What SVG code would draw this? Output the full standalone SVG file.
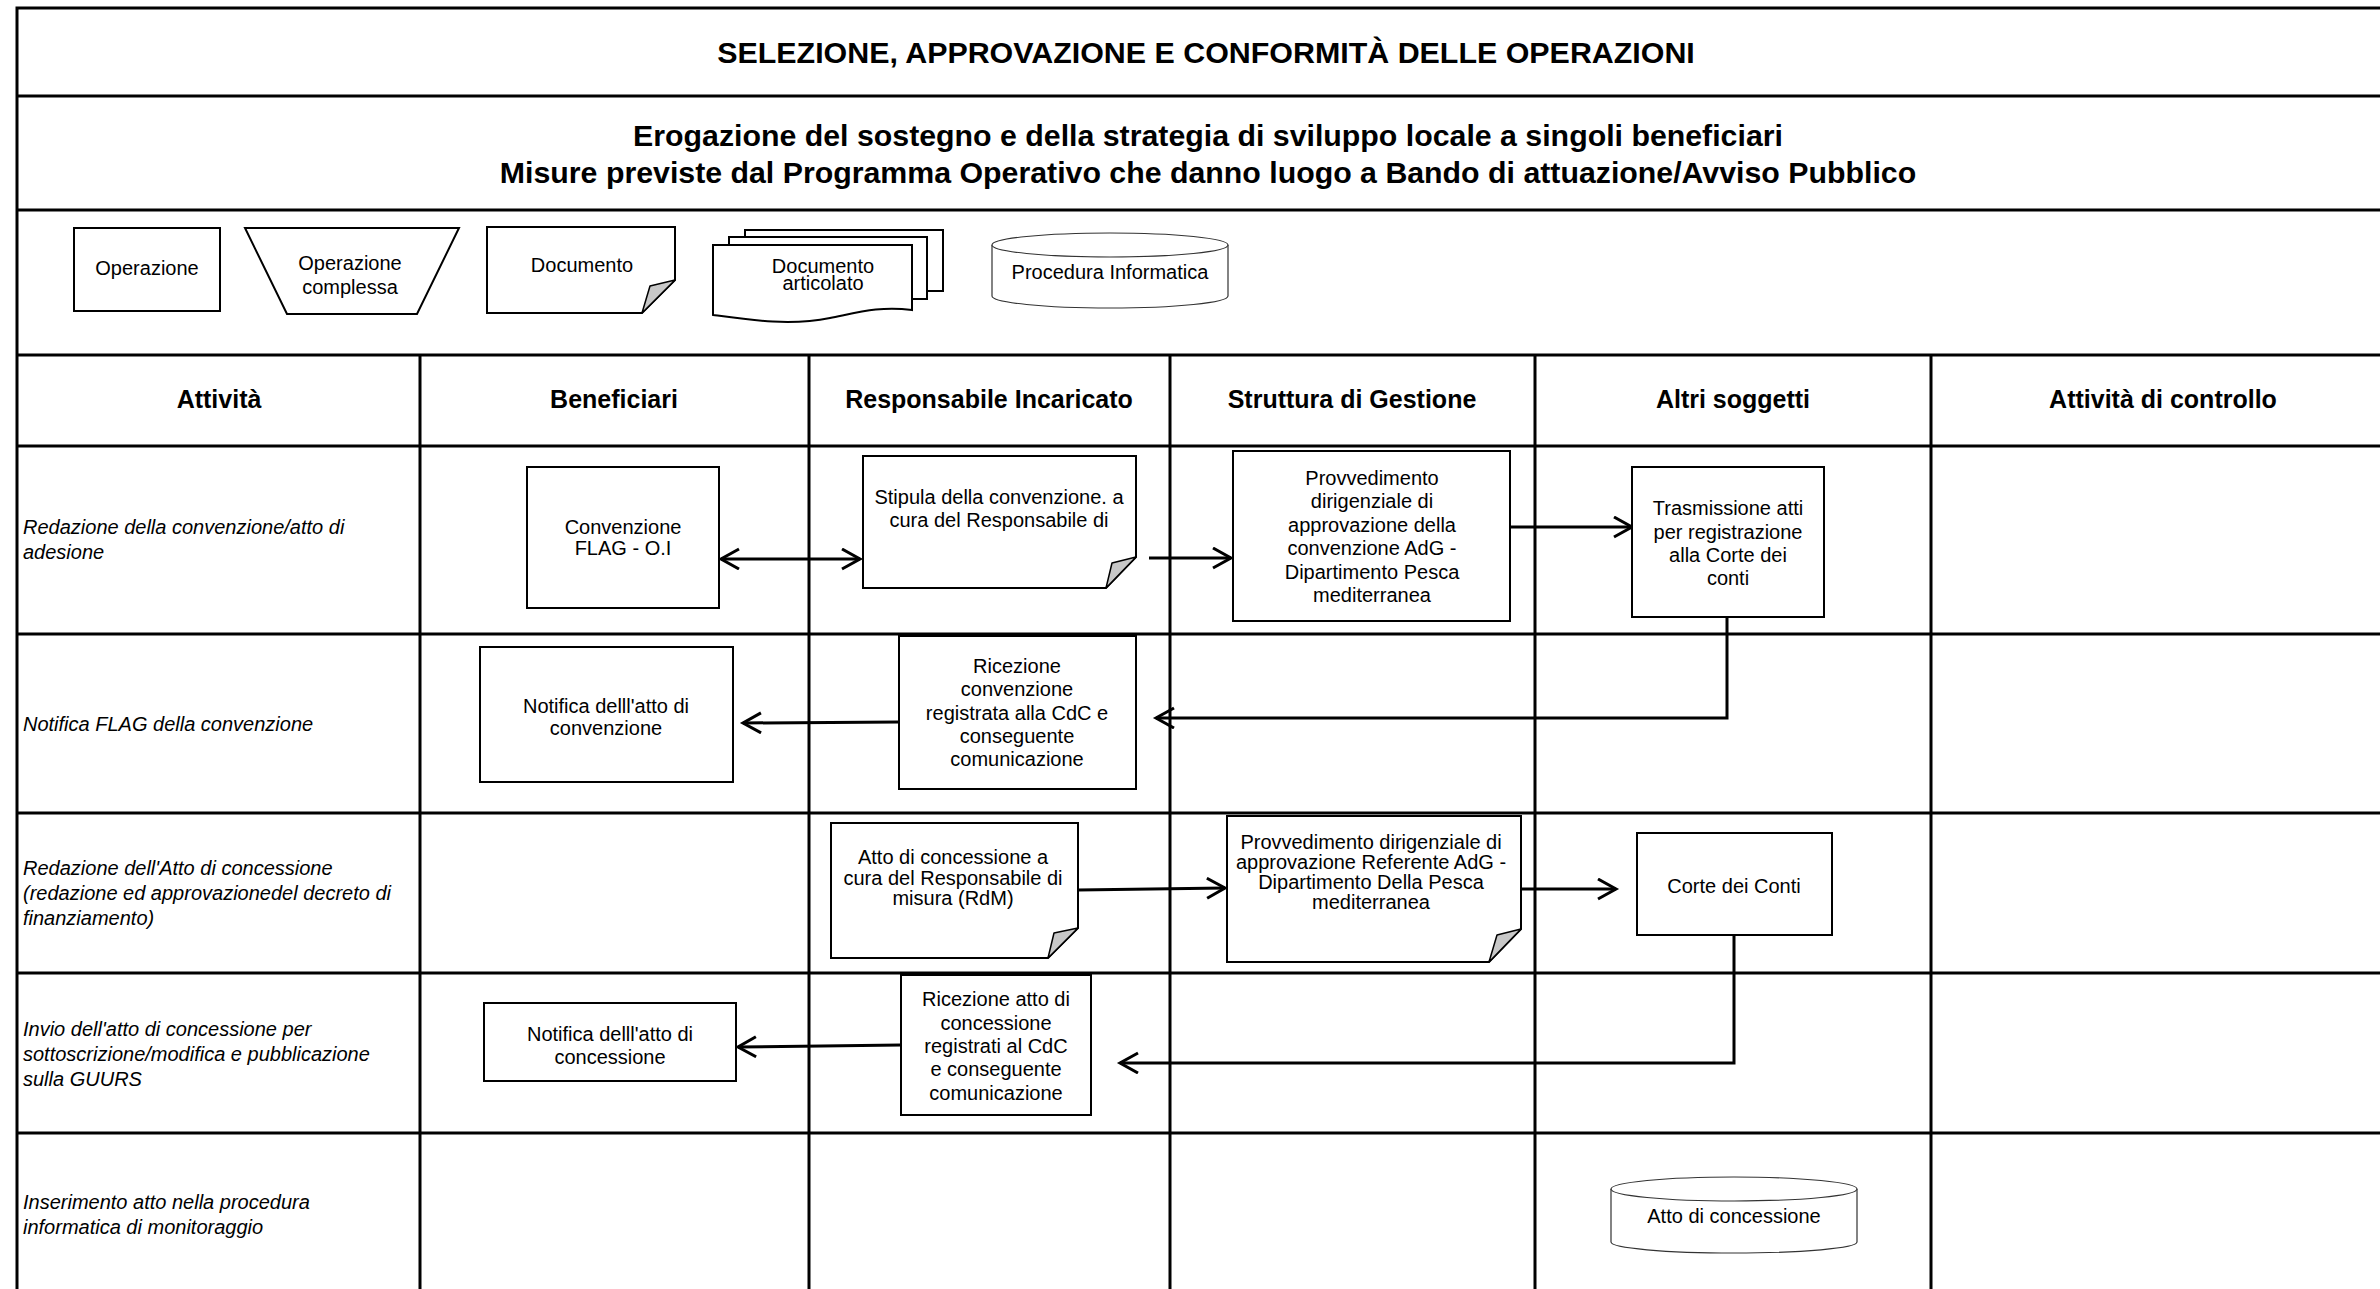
<svg xmlns="http://www.w3.org/2000/svg" width="2380" height="1289" viewBox="0 0 2380 1289">
<defs>
<style>
text{font-family:"Liberation Sans",Arial,sans-serif;fill:#000}
.ttl{font-size:30.4px;font-weight:bold;text-anchor:middle}
.sub{font-size:30.3px;font-weight:bold;text-anchor:middle}
.hdr{font-size:25px;font-weight:bold;text-anchor:middle}
.act{font-size:20px;font-style:italic}
.nt{font-size:20px;text-anchor:middle}
.grid{stroke:#000;stroke-width:3;fill:none}
.box{fill:#fff;stroke:#000;stroke-width:2}
.fold{fill:#c8c8c8;stroke:#000;stroke-width:1.5;stroke-linejoin:round}
.cyl{fill:#fff;stroke:#333;stroke-width:1.2}
.con{stroke:#000;stroke-width:3;fill:none}
</style>
<marker id="arr" markerUnits="userSpaceOnUse" markerWidth="24" markerHeight="26" refX="19" refY="11" orient="auto-start-reverse" viewBox="0 0 24 26">
<path d="M1,1 L19,11 L1,21" fill="none" stroke="#000" stroke-width="3"/>
</marker>
</defs>
<rect width="2380" height="1289" fill="#fff"/>

<g id="grid">
<path class="grid" d="M17,8 H2380 M17,96 H2380 M17,210 H2380 M17,355 H2380 M17,446 H2380 M17,634 H2380 M17,813 H2380 M17,973 H2380 M17,1133 H2380 M17,6.5 V1289 M420,355 V1289 M809,355 V1289 M1170,355 V1289 M1535,355 V1289 M1931,355 V1289"/>
</g>

<g id="titles">
<text class="ttl" x="1206" y="63">SELEZIONE, APPROVAZIONE E CONFORMITÀ DELLE OPERAZIONI</text>
<text class="sub" x="1208" y="146">Erogazione del sostegno e della strategia di sviluppo locale a singoli beneficiari</text>
<text class="sub" x="1208" y="183">Misure previste dal Programma Operativo che danno luogo a Bando di attuazione/Avviso Pubblico</text>
</g>

<g id="legend">
<g id="leg-operazione">
<rect class="box" x="74" y="228" width="146" height="83"/>
<text class="nt" x="147" y="275">Operazione</text>
</g>
<g id="leg-operazione-complessa">
<polygon class="box" points="245,228 459,228 417,314 287,314"/>
<text class="nt" x="350" y="270">Operazione</text>
<text class="nt" x="350" y="294">complessa</text>
</g>
<g id="leg-documento">
<path class="box" d="M487,227 H675 V280 L642,313 H487 Z"/>
<path class="fold" d="M675,280 L650,286 L642,313 Z"/>
<text class="nt" x="582" y="272">Documento</text>
</g>
<g id="leg-documento-articolato">
<rect class="box" x="745" y="230" width="198" height="61"/>
<rect class="box" x="729" y="237" width="198" height="62"/>
<path class="box" d="M713,245 H912 V310 C880,306 860,312 830,318 C790,326 750,320 713,315 Z"/>
<text class="nt" x="823" y="273">Documento</text>
<text class="nt" x="823" y="290">articolato</text>
</g>
<g id="leg-procedura">
<path class="cyl" d="M992,245 V296 A118,12 0 0 0 1228,296 V245"/>
<ellipse class="cyl" cx="1110" cy="245" rx="118" ry="12"/>
<text class="nt" x="1110" y="279">Procedura Informatica</text>
</g>
</g>

<g id="headers">
<text class="hdr" x="219" y="408">Attività</text>
<text class="hdr" x="614" y="408">Beneficiari</text>
<text class="hdr" x="989" y="408">Responsabile Incaricato</text>
<text class="hdr" x="1352" y="408">Struttura di Gestione</text>
<text class="hdr" x="1733" y="408">Altri soggetti</text>
<text class="hdr" x="2163" y="408">Attività di controllo</text>
</g>

<g id="activities">
<text class="act" x="23" y="534">Redazione della convenzione/atto di</text>
<text class="act" x="23" y="559">adesione</text>
<text class="act" x="23" y="731">Notifica FLAG della convenzione</text>
<text class="act" x="23" y="875">Redazione dell'Atto di concessione</text>
<text class="act" x="23" y="900">(redazione ed approvazionedel decreto di</text>
<text class="act" x="23" y="925">finanziamento)</text>
<text class="act" x="23" y="1036">Invio dell'atto di concessione per</text>
<text class="act" x="23" y="1061">sottoscrizione/modifica e pubblicazione</text>
<text class="act" x="23" y="1086">sulla GUURS</text>
<text class="act" x="23" y="1209">Inserimento atto nella procedura</text>
<text class="act" x="23" y="1234">informatica di monitoraggio</text>
</g>

<g id="connectors">
<path class="con" d="M721,559 H860" marker-start="url(#arr)" marker-end="url(#arr)"/>
<path class="con" d="M1149,558 H1231" marker-end="url(#arr)"/>
<path class="con" d="M1510,527 H1632" marker-end="url(#arr)"/>
<path class="con" d="M1727,617 V718 H1156" marker-end="url(#arr)"/>
<path class="con" d="M899,722 L743,723" marker-end="url(#arr)"/>
<path class="con" d="M1078,890 L1225,888" marker-end="url(#arr)"/>
<path class="con" d="M1521,889 H1616" marker-end="url(#arr)"/>
<path class="con" d="M1734,935 V1063 H1120" marker-end="url(#arr)"/>
<path class="con" d="M901,1045 L738,1047" marker-end="url(#arr)"/>
</g>

<g id="n-convenzione">
<rect class="box" x="527" y="467" width="192" height="141"/>
<text class="nt" x="623" y="534">Convenzione</text>
<text class="nt" x="623" y="555">FLAG - O.I</text>
</g>
<g id="n-stipula">
<path class="box" d="M863,456 H1136 V557 L1106,588 H863 Z"/>
<path class="fold" d="M1136,557 L1112,563 L1106,588 Z"/>
<text class="nt" x="999" y="504">Stipula della convenzione. a</text>
<text class="nt" x="999" y="527">cura del Responsabile di</text>
</g>
<g id="n-provvedimento1">
<rect class="box" x="1233" y="451" width="277" height="170"/>
<text class="nt" x="1372" y="485">Provvedimento</text>
<text class="nt" x="1372" y="508">dirigenziale di</text>
<text class="nt" x="1372" y="532">approvazione della</text>
<text class="nt" x="1372" y="555">convenzione AdG -</text>
<text class="nt" x="1372" y="579">Dipartimento Pesca</text>
<text class="nt" x="1372" y="602">mediterranea</text>
</g>
<g id="n-trasmissione">
<rect class="box" x="1632" y="467" width="192" height="150"/>
<text class="nt" x="1728" y="515">Trasmissione atti</text>
<text class="nt" x="1728" y="539">per registrazione</text>
<text class="nt" x="1728" y="562">alla Corte dei</text>
<text class="nt" x="1728" y="585">conti</text>
</g>
<g id="n-notifica-convenzione">
<rect class="box" x="480" y="647" width="253" height="135"/>
<text class="nt" x="606" y="713">Notifica delll'atto di</text>
<text class="nt" x="606" y="735">convenzione</text>
</g>
<g id="n-ricezione-convenzione">
<rect class="box" x="899" y="636" width="237" height="153"/>
<text class="nt" x="1017" y="673">Ricezione</text>
<text class="nt" x="1017" y="696">convenzione</text>
<text class="nt" x="1017" y="720">registrata alla CdC e</text>
<text class="nt" x="1017" y="743">conseguente</text>
<text class="nt" x="1017" y="766">comunicazione</text>
</g>
<g id="n-atto">
<path class="box" d="M831,823 H1078 V928 L1048,958 H831 Z"/>
<path class="fold" d="M1078,928 L1054,933 L1048,958 Z"/>
<text class="nt" x="953" y="864">Atto di concessione a</text>
<text class="nt" x="953" y="885">cura del Responsabile di</text>
<text class="nt" x="953" y="905">misura (RdM)</text>
</g>
<g id="n-provvedimento2">
<path class="box" d="M1227,816 H1521 V929 L1489,962 H1227 Z"/>
<path class="fold" d="M1521,929 L1497,935 L1489,962 Z"/>
<text class="nt" x="1371" y="849">Provvedimento dirigenziale di</text>
<text class="nt" x="1371" y="869">approvazione Referente AdG -</text>
<text class="nt" x="1371" y="889">Dipartimento Della Pesca</text>
<text class="nt" x="1371" y="909">mediterranea</text>
</g>
<g id="n-corte">
<rect class="box" x="1637" y="833" width="195" height="102"/>
<text class="nt" x="1734" y="893">Corte dei Conti</text>
</g>
<g id="n-ricezione-atto">
<rect class="box" x="901" y="975" width="190" height="140"/>
<text class="nt" x="996" y="1006">Ricezione atto di</text>
<text class="nt" x="996" y="1030">concessione</text>
<text class="nt" x="996" y="1053">registrati al CdC</text>
<text class="nt" x="996" y="1076">e conseguente</text>
<text class="nt" x="996" y="1100">comunicazione</text>
</g>
<g id="n-notifica-concessione">
<rect class="box" x="484" y="1003" width="252" height="78"/>
<text class="nt" x="610" y="1041">Notifica delll'atto di</text>
<text class="nt" x="610" y="1064">concessione</text>
</g>
<g id="n-cyl-atto">
<path class="cyl" d="M1611,1189 V1242 A123,11 0 0 0 1857,1242 V1189"/>
<ellipse class="cyl" cx="1734" cy="1189" rx="123" ry="12"/>
<text class="nt" x="1734" y="1223">Atto di concessione</text>
</g>
</svg>
